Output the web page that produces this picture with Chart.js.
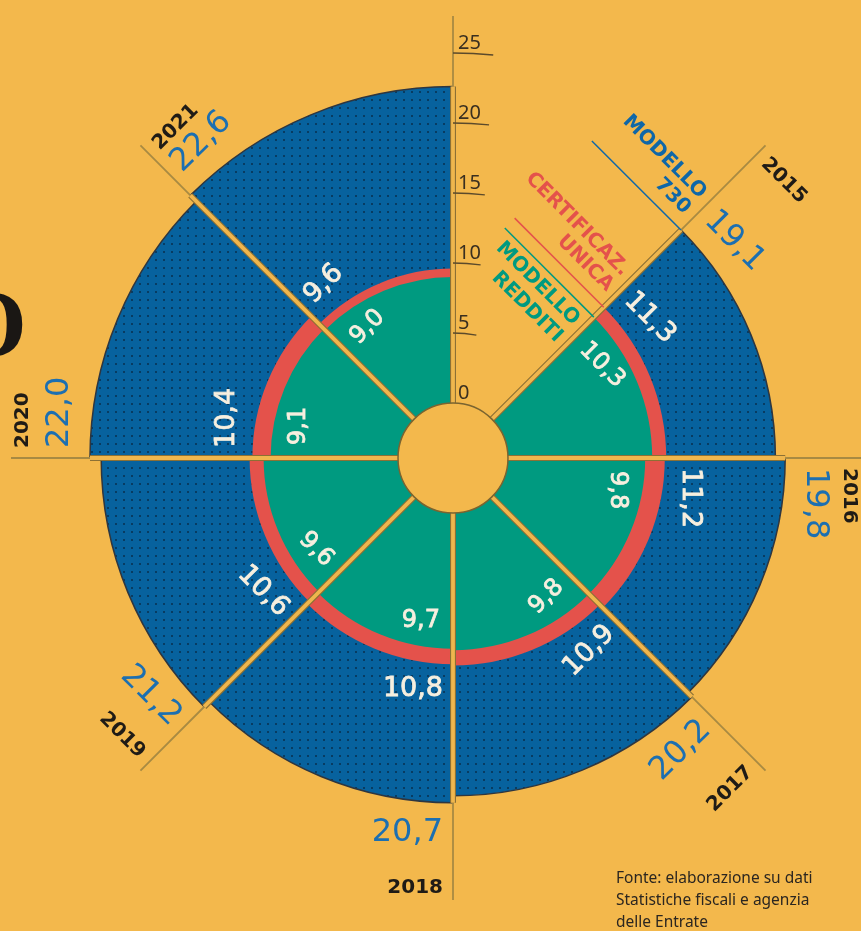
<!DOCTYPE html>
<html lang="it">
<head>
<meta charset="utf-8">
<title>Modello 730, Certificazione unica e Modello Redditi 2015-2021</title>
<script src="https://cdn.jsdelivr.net/npm/chart.js@4.4.1/dist/chart.umd.min.js"></script>
<style>
  html, body { margin: 0; padding: 0; background: #f3b84c; }
  #wrap { position: relative; width: 861px; height: 931px; overflow: hidden; }
  #source {
    position: absolute; left: 616px; top: 866px;
    font: 15.5px/22px "Noto Sans", sans-serif; color: #2b2620;
  }
</style>
</head>
<body>
<div id="wrap">
  <canvas id="polarChart" width="861" height="931"></canvas>
  <div id="source">Fonte: elaborazione su dati<br>Statistiche fiscali e agenzia<br>delle Entrate</div>
</div>
<script>
// milioni di dichiarazioni per anno
const years = ['2015', '2016', '2017', '2018', '2019', '2020', '2021'];
const modelloRedditi = [10.3, 9.8, 9.8, 9.7, 9.6, 9.1, 9.0];
const certUnica = [11.3, 11.2, 10.9, 10.8, 10.6, 10.4, 9.6];
const modello730 = [19.1, 19.8, 20.2, 20.7, 21.2, 22.0, 22.6];
const seriesNames = [['MODELLO', 'REDDITI'], ['CERTIFICAZ.', 'UNICA'], ['MODELLO', '730']];
const axisTicks = [0, 5, 10, 15, 20, 25];

const BG = '#f3b84c';
const GREEN = '#009a80';
const RED = '#e4524b';
const BLUE = '#07629e';
const BLUE_TEXT = '#1c6fb1';
const CREAM = '#f7efdf';
const INK = '#1f1b16';

document.addEventListener('DOMContentLoaded', () => {
    setupChart();
});

function fmt(v) {
    return v.toFixed(1).replace('.', ',');
}

function dotPattern() {
    const c = document.createElement('canvas');
    c.width = 8;
    c.height = 8;
    const g = c.getContext('2d');
    g.fillStyle = BLUE;
    g.fillRect(0, 0, 8, 8);
    g.fillStyle = 'rgba(10, 30, 50, 0.55)';
    g.fillRect(3, 3, 2, 2);
    return g.createPattern(c, 'repeat');
}

// text laid along the tangent, just clockwise of a sector line
function tangentText(ctx, cx, cy, a, along, gap, text, font, color, heavy) {
    ctx.save();
    ctx.font = font;
    const w = ctx.measureText(text).width;
    const perp = gap + w / 2;
    const x = cx + along * Math.cos(a) - perp * Math.sin(a);
    const y = cy + along * Math.sin(a) + perp * Math.cos(a);
    let rot = a + Math.PI / 2;
    while (rot > Math.PI) rot -= 2 * Math.PI;
    while (rot <= -Math.PI) rot += 2 * Math.PI;
    if (rot > Math.PI / 2 + 1e-6) rot -= Math.PI;
    if (rot < -Math.PI / 2 - 1e-6) rot += Math.PI;
    ctx.translate(x, y);
    ctx.rotate(rot);
    ctx.fillStyle = color;
    ctx.textAlign = 'center';
    ctx.textBaseline = 'middle';
    ctx.fillText(text, 0, 0);
    if (heavy) {
        ctx.strokeStyle = color;
        ctx.lineWidth = 0.8;
        ctx.strokeText(text, 0, 0);
    }
    ctx.restore();
}

const radialDecor = {
    id: 'radialDecor',
    afterDatasetsDraw(chart) {
        const ctx = chart.ctx;
        const scale = chart.scales.r;
        const cx = scale.xCenter;
        const cy = scale.yCenter;
        const rOf = v => scale.getDistanceFromCenterForValue(v);
        const W = chart.width, H = chart.height;
        const blueArcs = chart.getDatasetMeta(2).data;
        const n = blueArcs.length;
        const angles = blueArcs.map(el => el.startAngle);
        angles.push(blueArcs[n - 1].endAngle);
        const hole = rOf(0);
        const lineEnd = rOf(axisTicks[axisTicks.length - 1]) + 37;

        const reach = (a, limit, margin) => {
            const dx = Math.cos(a), dy = Math.sin(a);
            let r = limit;
            if (dx > 1e-6) r = Math.min(r, (W - margin - cx) / dx);
            if (dx < -1e-6) r = Math.min(r, (cx - margin) / -dx);
            if (dy > 1e-6) r = Math.min(r, (H - margin - cy) / dy);
            if (dy < -1e-6) r = Math.min(r, (cy - margin) / -dy);
            return r;
        };

        ctx.save();
        // sector lines
        angles.forEach((a, k) => {
            const dx = Math.cos(a), dy = Math.sin(a);
            let stripe = hole;
            if (k > 0) stripe = Math.max(stripe, blueArcs[k - 1].outerRadius);
            if (k < n) stripe = Math.max(stripe, blueArcs[k].outerRadius);
            const end = reach(a, lineEnd, 0);
            ctx.lineCap = 'butt';
            ctx.strokeStyle = '#a88a42';
            ctx.lineWidth = 1.8;
            ctx.beginPath();
            ctx.moveTo(cx + dx * stripe, cy + dy * stripe);
            ctx.lineTo(cx + dx * end, cy + dy * end);
            ctx.stroke();
            ctx.strokeStyle = '#8c7034';
            ctx.lineWidth = 6;
            ctx.beginPath();
            ctx.moveTo(cx + dx * hole, cy + dy * hole);
            ctx.lineTo(cx + dx * stripe, cy + dy * stripe);
            ctx.stroke();
            ctx.strokeStyle = '#efb64d';
            ctx.lineWidth = 3.8;
            ctx.stroke();
        });

        // hub
        ctx.beginPath();
        ctx.arc(cx, cy, hole, 0, Math.PI * 2);
        ctx.fillStyle = BG;
        ctx.fill();
        ctx.strokeStyle = '#7a6430';
        ctx.lineWidth = 1.5;
        ctx.stroke();

        // scale on the vertical axis
        ctx.font = '20px "Noto Sans", sans-serif';
        ctx.fillStyle = '#3a2f20';
        ctx.textAlign = 'left';
        ctx.textBaseline = 'alphabetic';
        axisTicks.forEach(v => {
            const r = rOf(v);
            if (v > 0) {
                const len = 16 + 0.06 * r;
                ctx.beginPath();
                ctx.arc(cx, cy, r, -Math.PI / 2, -Math.PI / 2 + len / r);
                ctx.strokeStyle = '#5b4a2b';
                ctx.lineWidth = 1.3;
                ctx.stroke();
            }
            ctx.fillText(String(v), cx + 5, cy - r - 4);
        });

        // values and years
        const green = chart.data.datasets[0].data;
        const red = chart.data.datasets[1].data;
        const blue = chart.data.datasets[2].data;
        for (let k = 0; k < n; k++) {
            const a = angles[k];
            tangentText(ctx, cx, cy, a, rOf(green[k]) - 28, 13, fmt(green[k]), '24px "DejaVu Sans", sans-serif', CREAM, true);
            tangentText(ctx, cx, cy, a, rOf(red[k]) + 25, 10, fmt(red[k]), '27px "DejaVu Sans", sans-serif', CREAM, true);
            tangentText(ctx, cx, cy, a, rOf(blue[k]) + 30, 10, fmt(blue[k]), '32px "DejaVu Sans", sans-serif', BLUE_TEXT, false);
            tangentText(ctx, cx, cy, a, reach(a, 430, 12), 10, chart.data.labels[k], 'bold 20px "DejaVu Sans", sans-serif', INK, false);
        }

        // series names in the empty sector, by the first line
        const a0 = angles[0];
        const ux = Math.cos(a0), uy = Math.sin(a0);
        const tx = -Math.sin(a0), ty = Math.cos(a0);
        const legendColors = [GREEN, RED, '#0f67a8'];
        seriesNames.forEach((lines, i) => {
            const R = chart.getDatasetMeta(i).data[0].outerRadius;
            ctx.strokeStyle = legendColors[i];
            ctx.lineWidth = 1.5;
            ctx.beginPath();
            ctx.moveTo(cx + ux * R, cy + uy * R);
            ctx.lineTo(cx + ux * R - tx * 126, cy + uy * R - ty * 126);
            ctx.stroke();
            const offs = i === 0 ? [-16, -40] : [40, 18];
            ctx.font = 'bold 20px "DejaVu Sans", sans-serif';
            ctx.fillStyle = legendColors[i];
            ctx.textAlign = 'right';
            ctx.textBaseline = 'middle';
            lines.forEach((txt, j) => {
                const along = R + offs[j];
                ctx.save();
                ctx.translate(cx + ux * along - tx * 9, cy + uy * along - ty * 9);
                ctx.rotate(a0 + Math.PI / 2);
                ctx.fillText(txt, 0, 0);
                ctx.restore();
            });
        });

        // cropped title letter on the left edge
        ctx.font = 'bold 96px "Liberation Serif", serif';
        ctx.fillStyle = '#1a1714';
        ctx.textAlign = 'right';
        ctx.textBaseline = 'alphabetic';
        ctx.fillText('O', 27, 356);
        ctx.restore();
    }
};

function setupChart() {
    const chartCtx = document.getElementById('polarChart').getContext('2d');
    const sector = 360 / (years.length + 1);

    new Chart(chartCtx, {
        type: 'polarArea',
        data: {
            labels: years,
            datasets: [{
                label: seriesNames[0].join(' '),
                data: modelloRedditi,
                backgroundColor: GREEN,
                borderWidth: 0,
                angle: sector
            }, {
                label: seriesNames[1].join(' '),
                data: certUnica,
                backgroundColor: RED,
                borderWidth: 0,
                angle: sector
            }, {
                label: seriesNames[2].join(' '),
                data: modello730,
                backgroundColor: dotPattern(),
                borderColor: '#2e3640',
                borderWidth: 1.5,
                angle: sector
            }]
        },
        options: {
            responsive: false,
            animation: false,
            layout: { padding: { left: 48, right: 3, top: 53, bottom: 68 } },
            plugins: {
                legend: { display: false },
                tooltip: { enabled: false }
            },
            scales: {
                r: {
                    min: -55 / 14, // empty hub in the middle
                    max: 25,
                    startAngle: sector,
                    ticks: { display: false },
                    grid: { display: false },
                    angleLines: { display: false },
                    pointLabels: { display: false }
                }
            }
        },
        plugins: [radialDecor]
    });
}
</script>
</body>
</html>
